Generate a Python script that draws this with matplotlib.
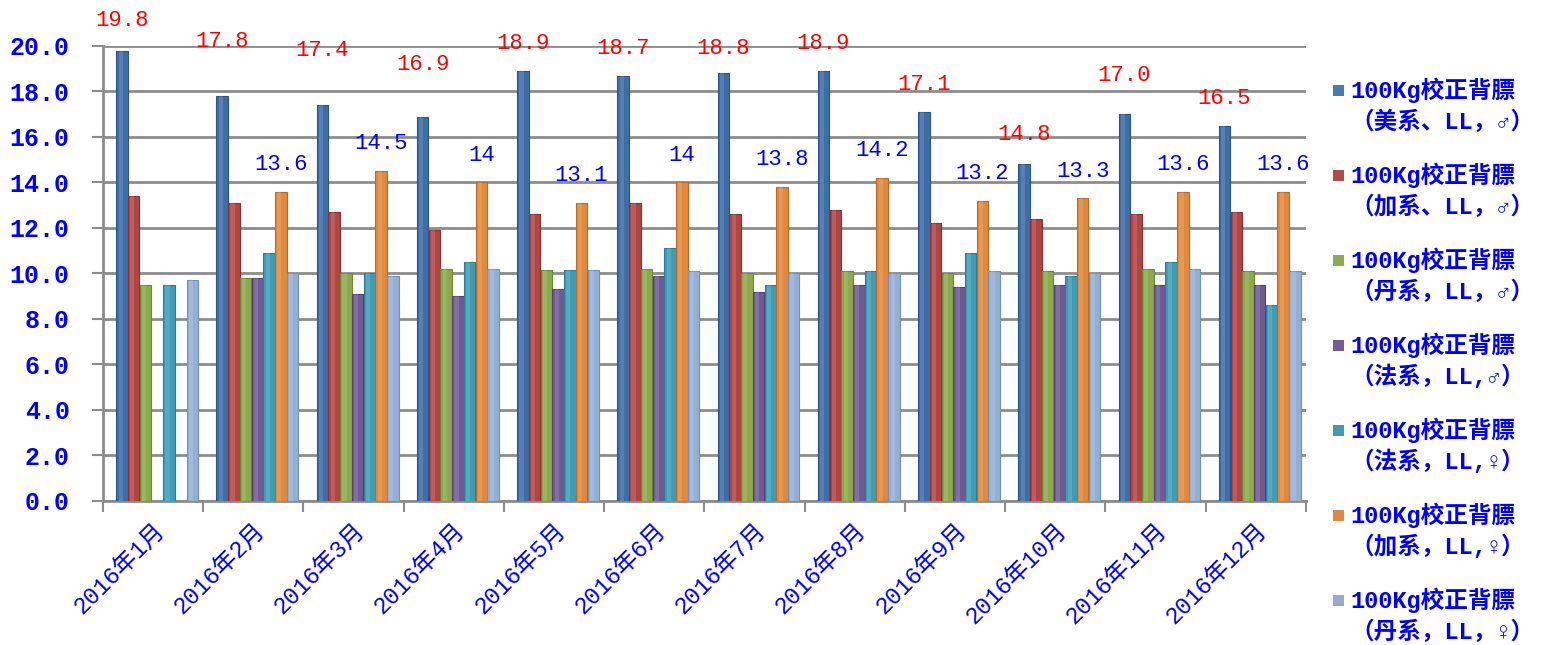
import matplotlib
matplotlib.use("Agg")
import matplotlib.pyplot as plt
import numpy as np
from matplotlib.patches import Rectangle

plt.rcParams['font.family'] = ['Liberation Mono', 'Noto Sans CJK SC', 'DejaVu Sans']

months = ["2016年1月", "2016年2月", "2016年3月", "2016年4月", "2016年5月", "2016年6月",
          "2016年7月", "2016年8月", "2016年9月", "2016年10月", "2016年11月", "2016年12月"]

series_line1 = "100Kg校正背膘"
series_line2 = [
    "（美系、LL，♂）",
    "（加系、LL，♂）",
    "（丹系，LL，♂）",
    "（法系，LL,♂）",
    "（法系，LL,♀）",
    "（加系，LL,♀）",
    "（丹系，LL，♀）",
]

us_male   = [19.8, 17.8, 17.4, 16.9, 18.9, 18.7, 18.8, 18.9, 17.1, 14.8, 17.0, 16.5]
ca_male   = [13.4, 13.1, 12.7, 11.9, 12.6, 13.1, 12.6, 12.8, 12.2, 12.4, 12.6, 12.7]
dk_male   = [9.5, 9.8, 10.0, 10.2, 10.15, 10.2, 10.0, 10.1, 10.0, 10.1, 10.2, 10.1]
fr_male   = [np.nan, 9.8, 9.1, 9.0, 9.3, 9.9, 9.2, 9.5, 9.4, 9.5, 9.5, 9.5]
fr_female = [9.5, 10.9, 10.0, 10.5, 10.15, 11.1, 9.5, 10.1, 10.9, 9.9, 10.5, 8.6]
ca_female = [np.nan, 13.6, 14.5, 14.0, 13.1, 14.0, 13.8, 14.2, 13.2, 13.3, 13.6, 13.6]
dk_female = [9.7, 10.0, 9.9, 10.2, 10.15, 10.1, 10.0, 10.0, 10.1, 10.0, 10.2, 10.1]

us_labels = ["19.8", "17.8", "17.4", "16.9", "18.9", "18.7", "18.8", "18.9", "17.1", "14.8", "17.0", "16.5"]
ca_female_labels = ["", "13.6", "14.5", "14", "13.1", "14", "13.8", "14.2", "13.2", "13.3", "13.6", "13.6"]

yticks = [0, 2, 4, 6, 8, 10, 12, 14, 16, 18, 20]

series = [us_male, ca_male, dk_male, fr_male, fr_female, ca_female, dk_female]
colors = ["#3E6EA8", "#B14544", "#8CAA4C", "#705A95", "#3E9DB6", "#E3893C", "#94AFD6"]
edges  = ["#2E5486", "#8A3232", "#6C8738", "#544275", "#2D7D92", "#B86A28", "#7290BA"]
legend_colors = ["#4A79AD", "#B24A48", "#8EAA50", "#745C96", "#4299B2", "#DE8743", "#95ACD0"]

# vertical placement of the red labels above the blue bars (style)
us_label_dy = [1.3, 2.4, 2.4, 2.3, 1.2, 1.2, 1.1, 1.2, 1.2, 1.3, 1.7, 1.2]
ca_label_dy = 1.2

W, H = 1554, 645
fig = plt.figure(figsize=(W / 100, H / 100), dpi=100)
ax = fig.add_axes([0.0663, 0.2233, 0.7740, 0.7054])

x = np.arange(len(months))
bw = 0.117
offset0 = 0.04 - 3 * bw
for i, (vals, c, ec) in enumerate(zip(series, colors, edges)):
    ax.bar(x + offset0 + i * bw, vals, width=bw * 0.98, color=c, edgecolor=ec,
           linewidth=0.8, zorder=3)
    # soft highlight to suggest the cylinder shading
    ax.bar(x + offset0 + i * bw - 0.12 * bw, vals, width=bw * 0.35, color="white",
           alpha=0.13, linewidth=0, zorder=4)

blue_text = "#0000FF"
for i in range(len(months)):
    ax.text(x[i] + offset0, us_male[i] + us_label_dy[i], us_labels[i], color="#FF0000",
            fontsize=16, ha="center", va="center", clip_on=False, zorder=5)
    if ca_female_labels[i]:
        ax.text(x[i] + offset0 + 5 * bw, ca_female[i] + ca_label_dy, ca_female_labels[i],
                color=blue_text, fontsize=16, ha="center", va="center", clip_on=False, zorder=5)

ax.set_xlim(-0.5, len(months) - 0.5)
ax.set_ylim(0, 20)
ax.set_yticks(yticks)
ax.set_yticklabels([f"{v:.1f}" for v in yticks], color=blue_text, fontsize=18, fontweight="bold")
ax.yaxis.grid(True, color="#8C8C8C", linewidth=2.0, zorder=0)
ax.set_axisbelow(True)

ax.set_xticks(x)
ax.set_xticklabels(months, rotation=45, ha="right", va="top", rotation_mode="anchor",
                   color=blue_text, fontsize=17)
ax.tick_params(axis="x", which="major", length=0, pad=13)
ax.set_xticks(np.arange(-0.5, len(months), 1.0), minor=True)
ax.tick_params(axis="x", which="minor", length=8, width=1.5, color="#8C8C8C")
ax.tick_params(axis="y", length=8, width=1.5, color="#8C8C8C", pad=16)

for s in ["top", "right"]:
    ax.spines[s].set_visible(False)
for s in ["left", "bottom"]:
    ax.spines[s].set_color("#8C8C8C")
    ax.spines[s].set_linewidth(2.0)

# legend drawn manually (square aligned with the first line of each entry)
for i, (l2, c) in enumerate(zip(series_line2, legend_colors)):
    y1 = 90 + 85 * i
    fig.patches.append(Rectangle((1333 / W, 1 - (y1 + 6) / H), 11 / W, 11 / H,
                                 transform=fig.transFigure, facecolor=c, edgecolor="none"))
    fig.text(1350 / W, 1 - y1 / H, series_line1, color=blue_text, fontsize=17,
             fontweight="bold", ha="left", va="center")
    fig.text(1350 / W, 1 - (y1 + 32) / H, l2, color=blue_text, fontsize=17,
             fontweight="bold", ha="left", va="center")

fig.savefig("out.png", dpi=100)
